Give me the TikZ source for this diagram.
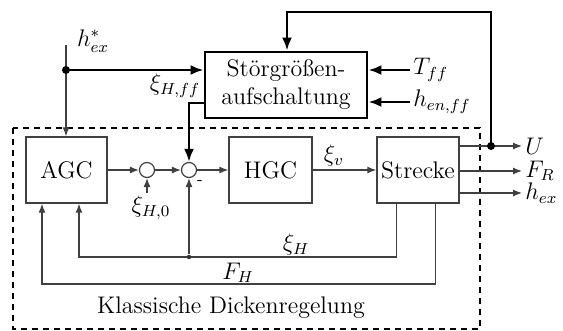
\documentclass[tikz,border=0pt]{standalone}
\usetikzlibrary{arrows.meta,calc}
\begin{document}
\begin{tikzpicture}[x=0.5pt,y=-0.5pt,
  every node/.style={font=\fontsize{12}{14}\selectfont},
  blk/.style={draw=black!75, line width=0.7pt, minimum height=33pt, inner sep=0pt},
  bigblk/.style={draw, line width=1.4pt, minimum width=81pt, minimum height=33pt, inner sep=0pt, align=center},
  sumc/.style={circle, draw=black!75, line width=0.6pt, minimum size=7.5pt, inner sep=0pt},
  sig/.style={draw=black!75, line width=0.6pt, -{Latex[length=4.5pt,width=3.5pt]}},
  sigthick/.style={line width=1.4pt, -{Latex[length=6.5pt,width=5pt]}},
  dotn/.style={circle, fill, inner sep=0pt, minimum size=4pt},
  smalldot/.style={circle, fill=black!80, inner sep=0pt, minimum size=2.2pt},
  lbl/.style={inner sep=1.5pt}]
\useasboundingbox (0,0) rectangle (563,331);
% frame
\draw[line width=1pt, dash pattern=on 3pt off 2.5pt] (13,128) rectangle (480,329);
\node (kd) at (231,308) {Klassische Dickenregelung};
% blocks
\node[blk, minimum width=40.5pt] (agc) at (66.5,170) {AGC};
\node[blk, minimum width=41.5pt] (hgc) at (270.5,170) {HGC};
\node[blk, minimum width=41pt] (str) at (418,170) {Strecke};
\node[bigblk] (stg) at (286,85) {Störgrößen-\\aufschaltung};
\node[sumc] (s1) at (147,170) {};
\node[sumc] (s2) at (189,170) {};
% h_ex*
\coordinate (hin) at (66,45);
\coordinate (hd) at (66,70);
\node[lbl] (hlab) at (93,41) {$h^*_{ex}$};
\draw[sig] (hin) -- (hin |- agc.north);
\draw[sigthick] (hd) -- (hd -| stg.west);
\node[dotn] (hdot) at (hd) {};
\node[lbl] (xff) at (175,86) {$\xi_{H,ff}$};
% top feedback
\coordinate (ud) at (491,146);
\coordinate (tl) at (287,12);
\draw[sigthick] (ud) |- (tl) -- (tl |- stg.north);
% T_ff, h_en,ff
\coordinate (tf) at (410,70);
\coordinate (he) at (410,102);
\draw[sigthick] (tf) -- (tf -| stg.east);
\draw[sigthick] (he) -- (he -| stg.east);
\node[lbl, anchor=west] (tfl) at (tf) {$T_{ff}$};
\node[lbl, anchor=west] (hel) at (he) {$h_{en,ff}$};
% feedforward output
\draw[sigthick] ($(stg.west)+(0,18)$) -| (s2.north);
% main chain
\draw[sig] (agc.east) -- (s1.west);
\draw[sig] (s1.east) -- (s2.west);
\draw[sig] (s2.east) -- (hgc.west);
\draw[sig] (hgc.east) -- (str.west);
\node[lbl] (xv) at (334,156) {$\xi_v$};
% xi_H,0
\coordinate (x0) at (147,193);
\draw[sig] (x0) -- (s1.south);
\node[lbl] (x0l) at (151,208) {$\xi_{H,0}$};
\node[inner sep=0pt, font=\fontsize{8}{9}\selectfont] (minus) at (200,183) {-};
% xi_H loop
\coordinate (xh) at (79,257);
\draw[sig] ($(str.south west)+(20,0)$) |- (xh) -- (xh |- agc.south);
\node[smalldot] (xdot) at (s2 |- xh) {};
\draw[sig] (xdot) -- (s2.south);
\node[lbl] (xhl) at (296,245) {$\xi_H$};
% F_H loop
\coordinate (fh) at (42,284);
\draw[sig] ($(str.south west)+(59,0)$) |- (fh) -- (fh |- agc.south);
\node[lbl] (fhl) at (238,273) {$F_H$};
% outputs
\coordinate (uo) at (522,146);
\coordinate (fo) at (522,171);
\coordinate (ho) at (522,193);
\draw[sig] (str.east |- uo) -- (uo);
\draw[sig] (str.east |- fo) -- (fo);
\draw[sig] (str.east |- ho) -- (ho);
\node[dotn] (udot) at (ud) {};
\node[lbl, anchor=west] (ul) at (uo) {$U$};
\node[lbl, anchor=west] (frl) at (fo) {$F_R$};
\node[lbl, anchor=west] (hxl) at (ho) {$h_{ex}$};
\end{tikzpicture}
\end{document}
